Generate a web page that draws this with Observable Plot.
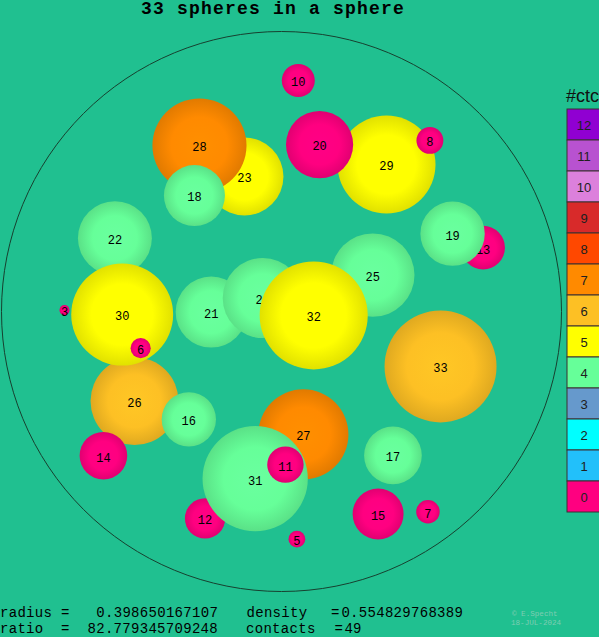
<!DOCTYPE html>
<html><head><meta charset="utf-8">
<script src="https://cdn.jsdelivr.net/npm/d3@7"></script>
<script src="https://cdn.jsdelivr.net/npm/@observablehq/plot@0.6"></script>
<style>
html,body{margin:0;padding:0;background:#20c090;width:599px;height:637px;overflow:hidden;}
#root{position:relative;width:599px;height:637px;overflow:hidden;}
.t{position:absolute;line-height:0;white-space:pre;}
.plotbox{position:absolute;}
.plotbox svg{max-width:none !important;}
</style></head><body><div id="root"></div>
<script>
// sphere labels in drawing order (back to front)
const labels   = [10, 23, 28, 18, 29, 20, 8, 22, 13, 19, 25, 21, 24, 32, 26, 30, 6, 3, 33, 16, 27, 12, 31, 11, 17, 14, 15, 7, 5];
// projected centres and radii, in units of the container radius
const xs       = [0.060, -0.132, -0.293, -0.311, 0.375, 0.136, 0.530, -0.595, 0.720, 0.611, 0.326, -0.251, -0.067, 0.115, -0.525, -0.569, -0.503, -0.775, 0.568, -0.331, 0.078, -0.273, -0.094, 0.014, 0.398, -0.636, 0.345, 0.523, 0.055];
const ys       = [0.825, 0.482, 0.593, 0.414, 0.525, 0.596, 0.611, 0.262, 0.228, 0.278, 0.130, -0.002, 0.048, -0.014, -0.320, -0.011, -0.131, 0.005, -0.196, -0.385, -0.439, -0.739, -0.597, -0.547, -0.514, -0.515, -0.723, -0.715, -0.813];
const rs       = [0.059, 0.139, 0.168, 0.109, 0.175, 0.120, 0.048, 0.132, 0.078, 0.115, 0.149, 0.127, 0.143, 0.193, 0.157, 0.182, 0.036, 0.018, 0.200, 0.097, 0.161, 0.072, 0.188, 0.065, 0.103, 0.085, 0.091, 0.042, 0.030];
const contacts = [0, 5, 7, 4, 5, 0, 0, 4, 0, 4, 4, 4, 4, 5, 6, 5, 0, 0, 6, 4, 7, 0, 4, 0, 4, 0, 0, 0, 0];

// legend: number of contacts (top to bottom) and colours indexed by ctc
const ctcValues = [12, 11, 10, 9, 8, 7, 6, 5, 4, 3, 2, 1, 0];
const ctcColors = ["#ff0080", "#22c0fa", "#00ffff", "#6699cc", "#66ff99", "#ffff00", "#fdc024", "#ff8a00", "#ff4800", "#d82a2a", "#dc80dc", "#b852d0", "#9000d2"];

const titleText = "33 spheres in a sphere";
const legendTitle = "#ctc";
const statsLine1 = ["radius =", "0.398650167107", "density", "=", "0.554829768389"];
const statsLine2 = ["ratio  =", "82.779345709248", "contacts", "=", "49"];
const credit = ["\u00a9 E.Specht", "18-JUL-2024"];

const spheres = labels.map((label, i) => ({label: String(label), x: xs[i], y: ys[i], r: rs[i], ctc: contacts[i]}));
const container = [{x: 0, y: 0, r: 1}];

const root = document.getElementById("root");

const main = Plot.plot({
  width: 566, height: 600,
  marginTop: 0, marginRight: 0, marginBottom: 0, marginLeft: 0,
  x: {domain: [-1, 1], range: [1, 561], axis: null},
  y: {domain: [-1, 1], range: [591, 31], axis: null},
  r: {type: "linear", domain: [0, 1], range: [0, 280]},
  color: {type: "identity"},
  style: {background: "transparent", overflow: "visible"},
  marks: [
    Plot.dot(container, {x: "x", y: "y", r: "r", stroke: "#17402f", strokeWidth: 1, fill: "none"}),
    ...spheres.flatMap(s => [
      Plot.dot([s], {x: "x", y: "y", r: "r", fill: d => `url(#ctcgrad${d.ctc})`}),
      Plot.text([s], {x: "x", y: "y", text: "label", dy: 2, fill: "#000", fontFamily: "Liberation Mono", fontSize: 12})
    ])
  ]
});
// radial shading for the spheres
const defs = d3.select(main).insert("defs", ":first-child");
ctcColors.forEach((c, k) => {
  const g = defs.append("radialGradient").attr("id", `ctcgrad${k}`);
  g.append("stop").attr("offset", "0%").attr("stop-color", d3.color(c).brighter(0.1).formatHex());
  g.append("stop").attr("offset", "60%").attr("stop-color", c);
  g.append("stop").attr("offset", "100%").attr("stop-color", d3.color(c).darker(0.35).formatHex());
});
const mainBox = document.createElement("div");
mainBox.className = "plotbox";
mainBox.style.left = "0px"; mainBox.style.top = "0px"; mainBox.style.width = "566px";
mainBox.appendChild(main);
root.appendChild(mainBox);

const legend = Plot.plot({
  width: 34, height: 413,
  marginTop: 0, marginRight: 0, marginBottom: 0, marginLeft: 0,
  x: {axis: null},
  y: {domain: ctcValues.map(String), padding: 0, axis: null},
  color: {type: "identity"},
  style: {background: "transparent", overflow: "visible"},
  marks: [
    Plot.cell(ctcValues, {y: d => String(d), fill: d => ctcColors[d], stroke: "#3a3030", strokeWidth: 1, inset: 0}),
    Plot.text(ctcValues, {y: d => String(d), text: d => String(d), dx: -0.5, dy: 1, fill: "#202020", fontFamily: "Liberation Sans", fontSize: 13})
  ]
});
const legBox = document.createElement("div");
legBox.className = "plotbox";
legBox.style.left = "567px"; legBox.style.top = "103.5px"; legBox.style.width = "34px";
legBox.appendChild(legend);
root.appendChild(legBox);

// text placement helper: (x = left edge, b = baseline)
const ASC = {"Liberation Mono": [0.8333, 0.3], "Liberation Sans": [0.905, 0.212]};
function place(text, x, b, family, size, opts = {}) {
  const d = document.createElement("div");
  d.className = "t";
  d.textContent = text;
  const [a, de] = ASC[family];
  d.style.fontFamily = `"${family}"`;
  d.style.fontSize = size + "px";
  d.style.top = (b - (a - de) / 2 * size) + "px";
  if (opts.center) { d.style.left = (x - 300) + "px"; d.style.width = "600px"; d.style.textAlign = "center"; }
  else d.style.left = x + "px";
  if (opts.spacing) d.style.letterSpacing = opts.spacing + "px";
  d.style.fontWeight = opts.weight || "normal";
  d.style.color = opts.color || "#000";
  root.appendChild(d);
}
place(titleText, 273.1, 14, "Liberation Mono", 18, {center: true, weight: "bold", spacing: 1.2});
place(legendTitle, 566, 102, "Liberation Sans", 18, {color: "#111"});
const l1x = [0, 96.3, 246.5, 331, 341.4];
const l2x = [0, 87.5, 246, 334.5, 344.4];
statsLine1.forEach((s, i) => place(s, l1x[i], 616.5, "Liberation Mono", 14, {spacing: 0.3}));
statsLine2.forEach((s, i) => place(s, l2x[i], 632.5, "Liberation Mono", 14, {spacing: 0.3}));
place(credit[0], 512, 616, "Liberation Mono", 7.6, {color: "#7fcdb2"});
place(credit[1], 511, 625, "Liberation Mono", 7.6, {color: "#7fcdb2"});
</script>
</body></html>
